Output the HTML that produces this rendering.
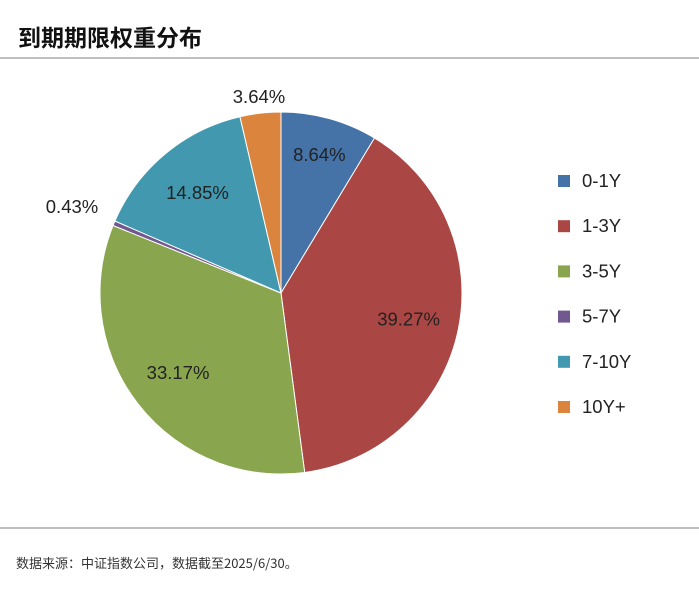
<!DOCTYPE html>
<html><head><meta charset="utf-8"><style>
body{margin:0;background:#fff;width:699px;height:596px;overflow:hidden;font-family:"Liberation Sans","Noto Sans CJK SC",sans-serif;}
.title{position:absolute;left:18px;top:19px;font-size:23px;font-weight:bold;color:#111;font-family:"Noto Sans CJK SC",sans-serif;}
.hr{position:absolute;left:0;width:699px;height:2px;background:#bfbfbf;}
.foot{position:absolute;left:16px;top:553px;font-size:13px;color:#333;font-family:"Noto Sans CJK SC",sans-serif;}
</style></head><body>
<div class="title">到期期限权重分布</div>
<div class="hr" style="top:57px"></div>
<div class="hr" style="top:527px"></div>
<div class="foot">数据来源：中证指数公司，数据截至2025/6/30。</div>
<svg id="chart" width="699" height="596" style="position:absolute;left:0;top:0"></svg>
<script>
const categories=["0-1Y","1-3Y","3-5Y","5-7Y","7-10Y","10Y+"];
const values=[8.64,39.27,33.17,0.43,14.85,3.64];
const colors=["#4572A7","#AA4643","#89A54E","#71588F","#4198AF","#DB843D"];
const svg=document.getElementById('chart');
const NS="http://www.w3.org/2000/svg";
const cx=281,cy=293,r=181;
const total=values.reduce((a,b)=>a+b,0);
function pt(a,rr){return [cx+rr*Math.sin(a),cy-rr*Math.cos(a)];}
let acc=0;
const labelR=[0.79,0.72,0.72,1.18,0.72,1.2];
values.forEach((v,i)=>{
  const a0=acc/total*2*Math.PI;acc+=v;const a1=acc/total*2*Math.PI;
  const p0=pt(a0,r),p1=pt(a1,r);
  const path=document.createElementNS(NS,'path');
  path.setAttribute('d',`M${cx},${cy}L${p0[0]},${p0[1]}A${r},${r} 0 ${a1-a0>Math.PI?1:0} 1 ${p1[0]},${p1[1]}Z`);
  path.setAttribute('fill',colors[i]);path.setAttribute('stroke','#fff');path.setAttribute('stroke-width','1');
  
  
  svg.appendChild(path);
  const am=(a0+a1)/2;let lp=pt(am,r*labelR[i]);
  if(i===3){lp=[72,207];}
  if(i===5){lp=[259,97];}
  const t=document.createElementNS(NS,'text');
  t.setAttribute('x',lp[0]);t.setAttribute('y',lp[1]+6);t.setAttribute('text-anchor','middle');
  t.setAttribute('font-size','18.5');t.setAttribute('fill','#222');
  t.textContent=v.toFixed(2)+'%';
  
  
  svg.appendChild(t);
});
categories.forEach((c,i)=>{
  const y=181+i*45.2;
  const rc=document.createElementNS(NS,'rect');
  rc.setAttribute('x',558);rc.setAttribute('y',y-6);rc.setAttribute('width',12);rc.setAttribute('height',12);rc.setAttribute('fill',colors[i]);
  
  
  svg.appendChild(rc);
  const t=document.createElementNS(NS,'text');
  t.setAttribute('x',582);t.setAttribute('y',y+6);t.setAttribute('font-size','18.5');t.setAttribute('fill','#222');
  t.textContent=c;
  
  
  svg.appendChild(t);
});
</script>
</body></html>
